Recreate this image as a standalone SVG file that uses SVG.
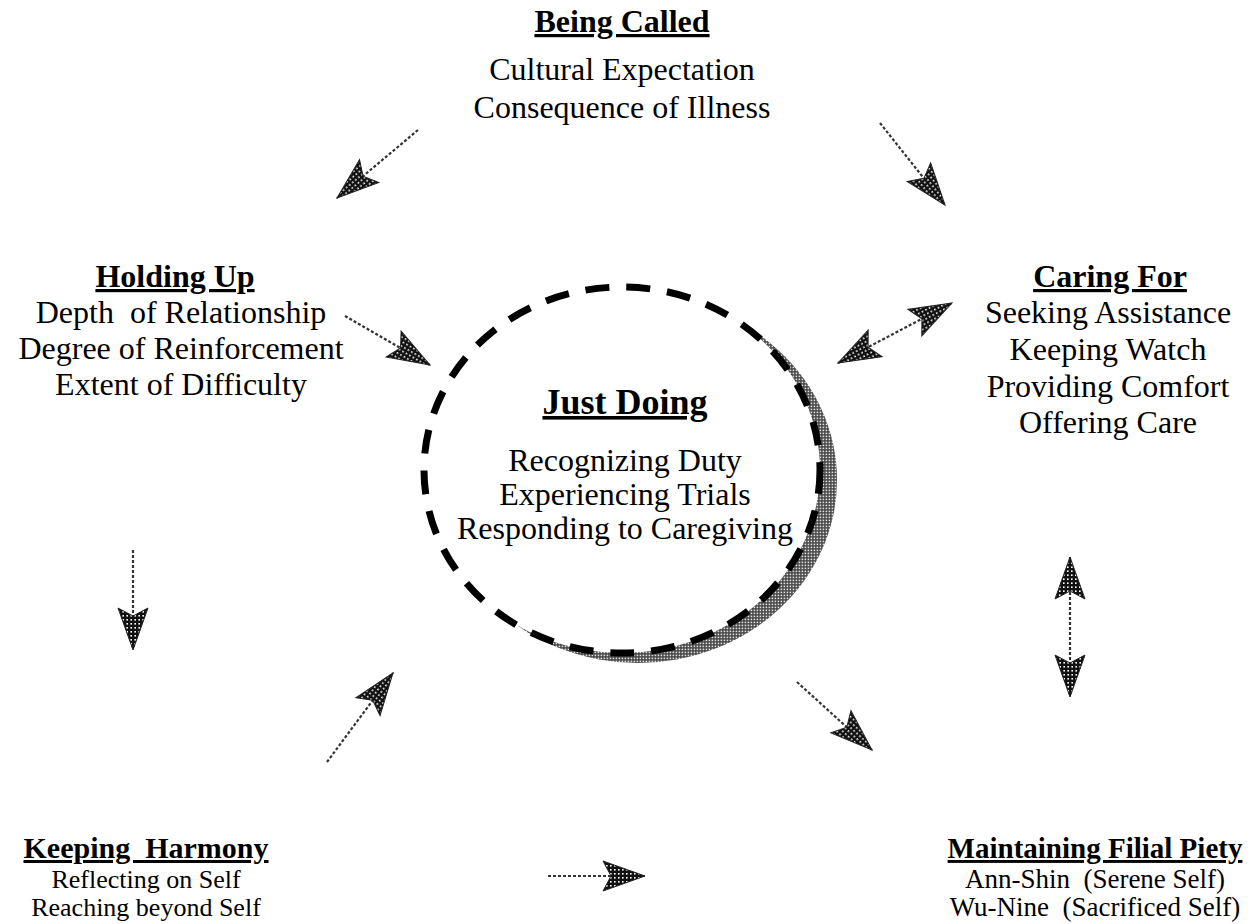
<svg xmlns="http://www.w3.org/2000/svg" width="1256" height="924" viewBox="0 0 1256 924">
<style>
text{font-family:"Liberation Serif","Times New Roman",serif;fill:#000;white-space:pre;text-anchor:middle}
.t{font-weight:bold;font-size:32px;text-decoration:underline}
.b{font-size:32px}
.tj{font-weight:bold;font-size:36px;text-decoration:underline}
.ts{font-weight:bold;font-size:30px;text-decoration:underline}
.tr{font-weight:bold;font-size:29px;text-decoration:underline}
.s{font-size:27px}
.sl{font-size:26px}
.ln{fill:none;stroke:#333;stroke-width:2.2;stroke-dasharray:3 2}
</style>
<defs>
<pattern id="hatch" width="4" height="4" patternUnits="userSpaceOnUse">
<rect width="4" height="4" fill="#111"/>
<rect x="1" y="1" width="1.6" height="1.6" fill="#fff"/>
</pattern>
<pattern id="shade" width="3" height="3" patternUnits="userSpaceOnUse">
<rect width="3" height="3" fill="#444"/>
<rect x="0.6" y="0.6" width="1.6" height="1.6" fill="#e0e0e0"/>
</pattern>
<marker id="ah" markerUnits="userSpaceOnUse" markerWidth="50" markerHeight="40" viewBox="-46 -20 50 40" refX="0" refY="0" orient="auto-start-reverse">
<path d="M0,0 L-42,-15 L-34,0 L-42,15 Z" fill="url(#hatch)" stroke="#222" stroke-width="1"/>
</marker>
</defs>

<g id="center-just-doing">
<ellipse cx="638" cy="480" rx="199" ry="183" fill="url(#shade)"/>
<ellipse cx="622" cy="470" rx="198" ry="183" fill="#fff"/>
<ellipse cx="622" cy="470" rx="198" ry="183" fill="none" stroke="#000" stroke-width="7" stroke-dasharray="24 17"/>
<text class="tj" x="625" y="414">Just Doing</text>
<text class="b" x="625" y="471">Recognizing Duty</text>
<text class="b" x="625" y="505">Experiencing Trials</text>
<text class="b" x="625" y="539">Responding to Caregiving</text>
</g>

<g id="being-called">
<text class="t" x="622" y="32">Being Called</text>
<text class="b" x="622" y="80">Cultural Expectation</text>
<text class="b" x="622" y="118">Consequence of Illness</text>
</g>

<g id="holding-up">
<text class="t" x="175" y="287">Holding Up</text>
<text class="b" x="181" y="323">Depth  of Relationship</text>
<text class="b" x="181" y="359">Degree of Reinforcement</text>
<text class="b" x="181" y="395">Extent of Difficulty</text>
</g>

<g id="caring-for">
<text class="t" x="1110" y="287">Caring For</text>
<text class="b" x="1108" y="323">Seeking Assistance</text>
<text class="b" x="1108" y="360">Keeping Watch</text>
<text class="b" x="1108" y="397">Providing Comfort</text>
<text class="b" x="1108" y="433">Offering Care</text>
</g>

<g id="keeping-harmony">
<text class="ts" x="146" y="858">Keeping  Harmony</text>
<text class="sl" x="146" y="888">Reflecting on Self</text>
<text class="sl" x="146" y="916">Reaching beyond Self</text>
</g>

<g id="maintaining-filial-piety">
<text class="tr" x="1095" y="858">Maintaining Filial Piety</text>
<text class="s" x="1095" y="888">Ann-Shin  (Serene Self)</text>
<text class="s" x="1095" y="916">Wu-Nine  (Sacrificed Self)</text>
</g>

<g id="connectors">
<line class="ln" x1="418" y1="130" x2="337" y2="198" marker-end="url(#ah)"/>
<line class="ln" x1="880" y1="123" x2="945" y2="205" marker-end="url(#ah)"/>
<line class="ln" x1="345" y1="316" x2="430" y2="365" marker-end="url(#ah)"/>
<line class="ln" x1="838" y1="363" x2="952" y2="303" marker-start="url(#ah)" marker-end="url(#ah)"/>
<line class="ln" x1="133" y1="550" x2="133" y2="650" marker-end="url(#ah)"/>
<line class="ln" x1="1070" y1="557" x2="1070" y2="697" marker-start="url(#ah)" marker-end="url(#ah)"/>
<line class="ln" x1="327" y1="762" x2="393" y2="673" marker-end="url(#ah)"/>
<line class="ln" x1="797" y1="682" x2="872" y2="750" marker-end="url(#ah)"/>
<line class="ln" x1="548" y1="876" x2="645" y2="876" marker-end="url(#ah)"/>
</g>
</svg>
